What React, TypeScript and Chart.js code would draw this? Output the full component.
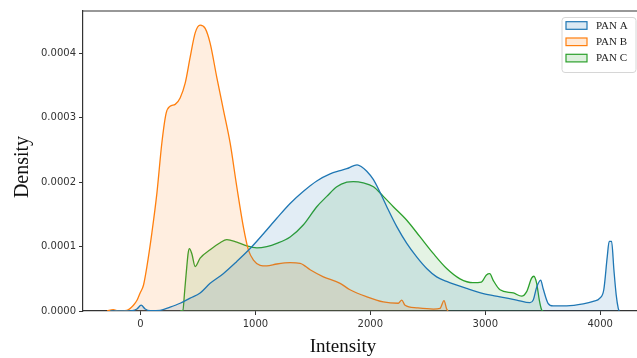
import React, { useEffect, useRef } from "react";
import { Chart, registerables } from "chart.js";

Chart.register(...registerables);

const seriesLabels = ["PAN A", "PAN B", "PAN C"];
const seriesColors = ["#1f77b4", "#ff7f0e", "#2ca02c"];

const panAX = [-263, -133, -72, -31, 6, 41, 84, 171, 258, 345, 432, 519, 606, 720, 838, 954, 1070, 1186, 1302, 1418, 1534, 1650, 1737, 1795, 1852, 1885, 1920, 1969, 2027, 2085, 2143, 2230, 2317, 2403, 2490, 2577, 2664, 2838, 2983, 3128, 3273, 3389, 3417, 3447, 3482, 3503, 3546, 3590, 3708, 3852, 3939, 3997, 4031, 4061, 4078, 4099, 4119, 4139, 4157, 4165];
const panAY = [0, 0, 0.005e-4, 0.03e-4, 0.09e-4, 0.03e-4, 0.005e-4, 0.01e-4, 0.06e-4, 0.12e-4, 0.2e-4, 0.28e-4, 0.43e-4, 0.58e-4, 0.77e-4, 0.97e-4, 1.2e-4, 1.44e-4, 1.67e-4, 1.86e-4, 2.02e-4, 2.13e-4, 2.18e-4, 2.21e-4, 2.255e-4, 2.27e-4, 2.245e-4, 2.17e-4, 2.04e-4, 1.84e-4, 1.62e-4, 1.31e-4, 1.05e-4, 0.84e-4, 0.66e-4, 0.53e-4, 0.46e-4, 0.35e-4, 0.27e-4, 0.22e-4, 0.17e-4, 0.13e-4, 0.17e-4, 0.37e-4, 0.48e-4, 0.35e-4, 0.12e-4, 0.08e-4, 0.08e-4, 0.11e-4, 0.15e-4, 0.2e-4, 0.33e-4, 0.84e-4, 1.08e-4, 1.08e-4, 0.64e-4, 0.25e-4, 0.04e-4, 0];

const panBX = [-290, -237, -190, -120, -61, -29, -3, 26, 56, 99, 143, 186, 223, 258, 302, 345, 389, 432, 476, 519, 563, 606, 664, 722, 780, 838, 896, 939, 983, 1041, 1099, 1186, 1302, 1389, 1476, 1591, 1737, 1823, 1969, 2113, 2243, 2273, 2302, 2403, 2548, 2606, 2641, 2664, 2676];
const panBY = [0, 0.02e-4, 0, 0.01e-4, 0.09e-4, 0.17e-4, 0.28e-4, 0.4e-4, 0.69e-4, 1.21e-4, 1.83e-4, 2.61e-4, 3.07e-4, 3.18e-4, 3.21e-4, 3.31e-4, 3.54e-4, 3.94e-4, 4.32e-4, 4.44e-4, 4.39e-4, 4.16e-4, 3.63e-4, 3.12e-4, 2.61e-4, 1.93e-4, 1.3e-4, 0.95e-4, 0.79e-4, 0.71e-4, 0.7e-4, 0.73e-4, 0.75e-4, 0.74e-4, 0.64e-4, 0.53e-4, 0.43e-4, 0.33e-4, 0.22e-4, 0.14e-4, 0.12e-4, 0.17e-4, 0.09e-4, 0.05e-4, 0.03e-4, 0.04e-4, 0.16e-4, 0.03e-4, 0];

const panCX = [345, 369, 384, 403, 415, 426, 447, 476, 519, 606, 693, 751, 838, 925, 1012, 1099, 1186, 1302, 1418, 1534, 1621, 1708, 1795, 1852, 1939, 2027, 2113, 2200, 2317, 2433, 2549, 2664, 2780, 2893, 2966, 3010, 3039, 3068, 3128, 3244, 3316, 3360, 3403, 3423, 3447, 3470, 3490, 3504];
const panCY = [0, 0.01e-4, 0.3e-4, 0.69e-4, 0.9e-4, 0.97e-4, 0.89e-4, 0.69e-4, 0.82e-4, 0.95e-4, 1.06e-4, 1.11e-4, 1.07e-4, 1.01e-4, 0.98e-4, 1.0e-4, 1.05e-4, 1.15e-4, 1.34e-4, 1.62e-4, 1.78e-4, 1.93e-4, 2.0e-4, 2.01e-4, 1.99e-4, 1.93e-4, 1.78e-4, 1.62e-4, 1.41e-4, 1.15e-4, 0.89e-4, 0.66e-4, 0.5e-4, 0.44e-4, 0.45e-4, 0.56e-4, 0.58e-4, 0.48e-4, 0.33e-4, 0.28e-4, 0.23e-4, 0.3e-4, 0.51e-4, 0.54e-4, 0.43e-4, 0.17e-4, 0.02e-4, 0];

const xTickValues = [0, 1000, 2000, 3000, 4000];
const yTickValues = [0, 0.0001, 0.0002, 0.0003, 0.0004];
const xTitle = "Intensity";
const yTitle = "Density";

function rgba(hex: string, a: number) {
  const n = parseInt(hex.slice(1), 16);
  return `rgba(${(n >> 16) & 255},${(n >> 8) & 255},${n & 255},${a})`;
}

const FILL_ALPHA = 0.13;

const framePlugin = {
  id: "framePlugin",
  afterDraw(chart: any) {
    const ctx = chart.ctx;
    const ca = chart.chartArea;
    ctx.save();
    // top spine
    ctx.strokeStyle = "#333";
    ctx.lineWidth = 1.2;
    ctx.beginPath();
    ctx.moveTo(ca.left, ca.top);
    ctx.lineTo(ca.right, ca.top);
    ctx.stroke();

    // axis titles
    ctx.fillStyle = "#111";
    ctx.textAlign = "center";
    ctx.textBaseline = "middle";
    ctx.font = "19px 'Liberation Serif', 'Times New Roman', serif";
    ctx.fillText(xTitle, 343, 347);
    ctx.save();
    ctx.translate(23, 167);
    ctx.rotate(-Math.PI / 2);
    ctx.font = "20px 'Liberation Serif', 'Times New Roman', serif";
    ctx.fillText(yTitle, 0, 0);
    ctx.restore();

    // legend
    const bx = 562, by = 17.5, bw = 74, bh = 55, r = 3;
    ctx.beginPath();
    ctx.moveTo(bx + r, by);
    ctx.lineTo(bx + bw - r, by);
    ctx.quadraticCurveTo(bx + bw, by, bx + bw, by + r);
    ctx.lineTo(bx + bw, by + bh - r);
    ctx.quadraticCurveTo(bx + bw, by + bh, bx + bw - r, by + bh);
    ctx.lineTo(bx + r, by + bh);
    ctx.quadraticCurveTo(bx, by + bh, bx, by + bh - r);
    ctx.lineTo(bx, by + r);
    ctx.quadraticCurveTo(bx, by, bx + r, by);
    ctx.closePath();
    ctx.fillStyle = "rgba(255,255,255,0.85)";
    ctx.fill();
    ctx.strokeStyle = "#d6d6d6";
    ctx.lineWidth = 1;
    ctx.stroke();

    ctx.font = "11px 'Liberation Serif', 'Times New Roman', serif";
    ctx.textAlign = "left";
    chart.data.datasets.forEach((ds: any, i: number) => {
      const cy = 25.5 + i * 16.3;
      ctx.fillStyle = rgba(ds.borderColor, 0.16);
      ctx.fillRect(566, cy - 3.8, 21, 7.6);
      ctx.strokeStyle = ds.borderColor;
      ctx.lineWidth = 1.2;
      ctx.strokeRect(566, cy - 3.8, 21, 7.6);
      ctx.fillStyle = "#222";
      ctx.fillText(ds.label, 596, cy + 0.5);
    });
    ctx.restore();
  },
};

export default function App() {
  const ref = useRef<HTMLCanvasElement>(null);
  useEffect(() => {
    const zip = (xs: number[], ys: number[]) => xs.map((x, i) => ({ x, y: ys[i] }));
    const series = [zip(panAX, panAY), zip(panBX, panBY), zip(panCX, panCY)];
    const datasets = series.map((data, i) => ({
      label: seriesLabels[i],
      data,
      borderColor: seriesColors[i],
      backgroundColor: rgba(seriesColors[i], FILL_ALPHA),
      fill: "origin",
      borderWidth: 1.3,
      pointRadius: 0,
      tension: 0.4,
      cubicInterpolationMode: "monotone" as const,
    }));
    const tickFont = { family: "'DejaVu Sans', sans-serif", size: 10 };
    const chart = new Chart(ref.current as HTMLCanvasElement, {
      type: "line",
      data: { datasets },
      options: {
        animation: false,
        responsive: false,
        layout: { padding: { top: 11, left: 0, right: 0, bottom: 0 } },
        plugins: { legend: { display: false }, tooltip: { enabled: false } },
        scales: {
          x: {
            type: "linear",
            min: -500,
            max: 4320,
            afterFit: (s: any) => {
              s.height = 47;
            },
            afterBuildTicks: (s: any) => {
              s.ticks = xTickValues.map((v) => ({ value: v }));
            },
            ticks: {
              font: tickFont,
              color: "#333",
              padding: 3,
              maxRotation: 0,
              autoSkip: false,
              callback: (v: any) => String(v),
            },
            grid: { display: true, drawOnChartArea: false, drawTicks: true, tickLength: 4, color: "#333", lineWidth: 1 },
            border: { display: true, color: "#333", width: 1.2 },
          },
          y: {
            type: "linear",
            min: 0,
            max: 0.000466,
            afterFit: (s: any) => {
              s.width = 83;
            },
            afterBuildTicks: (s: any) => {
              s.ticks = yTickValues.map((v) => ({ value: v }));
            },
            ticks: {
              font: tickFont,
              color: "#333",
              padding: 3,
              autoSkip: false,
              callback: (v: any) => Number(v).toFixed(4),
            },
            grid: { display: true, drawOnChartArea: false, drawTicks: true, tickLength: 4, color: "#333", lineWidth: 1 },
            border: { display: true, color: "#333", width: 1.2 },
          },
        },
      } as any,
      plugins: [framePlugin],
    });
    return () => chart.destroy();
  }, []);
  return (
    <div style={{ position: "fixed", left: 0, top: 0, width: 637, height: 358, background: "#fff", overflow: "hidden" }}>
      <canvas ref={ref} width={637} height={358} style={{ display: "block" }} />
    </div>
  );
}
